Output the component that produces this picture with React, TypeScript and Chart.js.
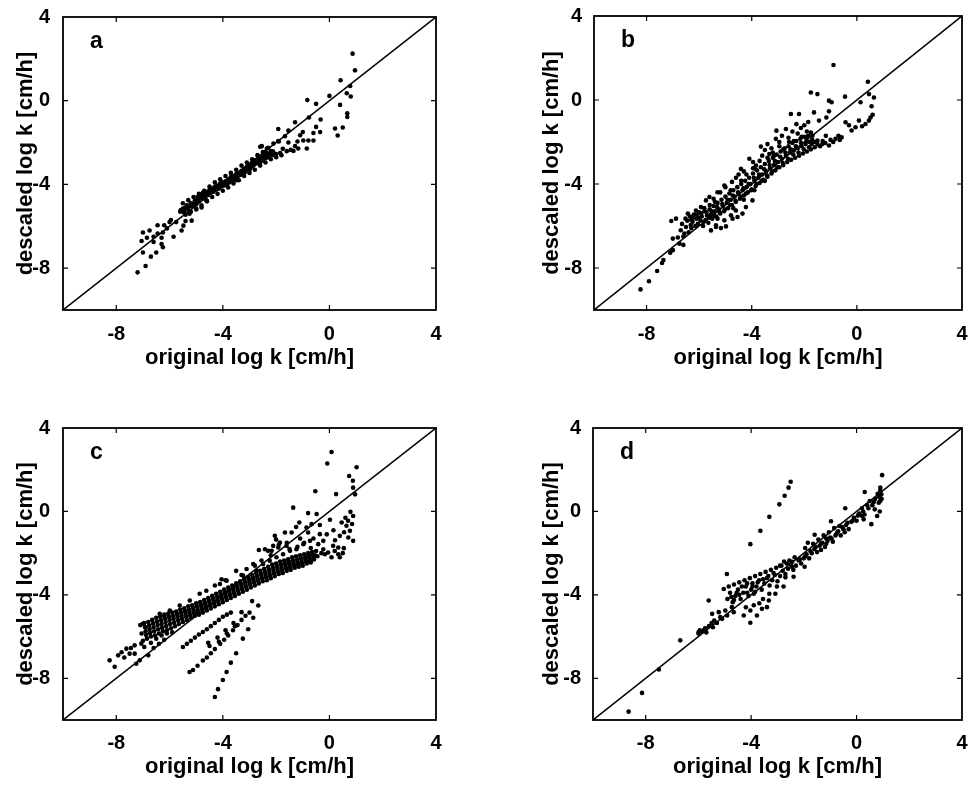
import React, { useEffect, useRef } from "react";
import { Chart, registerables } from "chart.js";

Chart.register(...registerables);

// ---------- data ----------
const axisMin = -10;
const axisMax = 4;
const tickValues = [-8, -4, 0, 4];
const xTitle = "original log k [cm/h]";
const yTitle = "descaled log k [cm/h]";
const panelLetters = ["a", "b", "c", "d"];
const diagonal = [axisMin, axisMax];

const pointsA: number[][] = [
  [-7.2, -8.2], [-6.9, -7.9], [-7.0, -7.25], [-6.7, -7.45], [-6.5, -7.25], [-7.05, -6.7], [-7.0, -6.3],
  [-6.75, -6.2], [-6.45, -6.35], [-6.85, -6.55], [-6.6, -6.75], [-6.25, -7.0], [-6.3, -6.55], [-6.1, -6.1],
  [-6.0, -5.8], [-5.85, -6.5], [-5.75, -5.8], [-5.55, -6.2], [-5.4, -5.75], [-5.25, -5.4], [-5.45, -5.3],
  [-6.2, -5.95], [-5.95, -5.7], [-6.3, -6.85], [-6.6, -6.5], [-6.45, -5.95], [-6.25, -6.3],
  [-4.8, -5.1], [-5.17, -5.73], [-5.48, -5.97], [-5.0, -5.2], [-4.6, -4.8], [-3.5, -3.8], [-3.0, -3.3],
  [-5.6, -5.3], [-5.5, -5.15], [-5.45, -5.35], [-5.35, -5.0], [-5.3, -5.2], [-5.2, -4.9], [-5.15, -5.05],
  [-5.05, -4.75], [-5.0, -4.95], [-4.95, -4.6], [-4.9, -4.8], [-4.85, -4.5], [-4.8, -4.65], [-4.75, -4.4],
  [-4.7, -4.55], [-4.65, -4.7], [-4.6, -4.35], [-4.55, -4.5], [-4.5, -4.25], [-4.45, -4.4], [-4.4, -4.2],
  [-4.35, -4.35], [-4.3, -4.1], [-4.25, -4.25], [-4.2, -4.05], [-4.15, -4.2], [-4.1, -3.95], [-4.05, -4.1],
  [-4.0, -3.9], [-3.95, -4.05], [-3.9, -3.85], [-3.85, -4.0], [-3.8, -3.75], [-3.75, -3.9], [-3.7, -3.65],
  [-3.65, -3.8], [-3.6, -3.6], [-3.55, -3.75], [-3.5, -3.5], [-3.45, -3.65], [-3.4, -3.45], [-3.35, -3.55],
  [-3.3, -3.35], [-3.25, -3.5], [-3.2, -3.25], [-3.15, -3.4], [-3.1, -3.15], [-3.05, -3.3], [-3.0, -3.05],
  [-2.95, -3.2], [-2.9, -2.95], [-2.85, -3.1], [-2.8, -2.85], [-2.75, -3.0], [-2.7, -2.9], [-2.65, -2.75],
  [-2.6, -2.95], [-2.55, -2.7], [-2.5, -2.85], [-2.45, -2.6], [-2.4, -2.75], [-2.35, -2.5], [-2.3, -2.7],
  [-2.25, -2.55], [-2.2, -2.4], [-2.15, -2.6], [-2.1, -2.5],
  [-5.58, -5.22], [-5.42, -5.12], [-5.28, -5.05], [-5.12, -4.92], [-4.98, -4.8], [-4.82, -4.62], [-4.68, -4.48],
  [-4.52, -4.38], [-4.38, -4.25], [-4.22, -4.15], [-4.08, -4.02], [-3.92, -3.95], [-3.78, -3.82], [-3.62, -3.7],
  [-3.48, -3.58], [-3.32, -3.45], [-3.18, -3.32], [-3.02, -3.18], [-2.88, -3.05], [-2.72, -2.95], [-2.58, -2.82],
  [-2.42, -2.68], [-2.28, -2.58], [-2.12, -2.42],
  [-5.5, -4.9], [-5.3, -4.75], [-5.1, -4.6], [-4.9, -4.45], [-4.7, -4.3], [-4.5, -4.1], [-4.3, -3.9],
  [-4.1, -3.75], [-3.9, -3.6], [-3.7, -3.45], [-3.5, -3.3], [-3.3, -3.1], [-3.1, -2.95], [-2.9, -2.8],
  [-2.7, -2.6], [-2.5, -2.45], [-2.3, -2.25], [-2.1, -2.05], [-1.9, -1.95],
  [-5.4, -5.45], [-5.2, -5.3], [-5.0, -5.15], [-4.8, -5.0], [-4.6, -4.8], [-4.4, -4.6], [-4.2, -4.45],
  [-4.0, -4.3], [-3.8, -4.15], [-3.6, -3.95], [-3.4, -3.8], [-3.2, -3.6], [-3.0, -3.45], [-2.8, -3.3],
  [-2.6, -3.1], [-2.4, -2.95], [-2.2, -2.8], [-2.0, -2.7], [-1.8, -2.6],
  [0.87, 2.25], [0.96, 1.45], [0.42, 0.98], [0.78, 0.7], [0.65, 0.36], [0.8, 0.2], [0.67, -0.6],
  [0.67, -0.78], [0.4, -0.2], [0.0, 0.23], [-0.83, 0.03], [-0.5, -0.15], [-0.33, -0.9], [-0.77, -0.8],
  [-1.29, -1.03], [-0.6, -1.54], [-0.35, -1.5], [0.21, -1.33], [0.5, -1.28], [0.31, -1.66], [-1.92, -1.35],
  [-1.54, -1.43], [-1.67, -1.7], [-1.1, -1.65], [-0.98, -1.9], [-0.79, -1.9], [-0.6, -1.9], [-0.85, -2.28],
  [-1.17, -2.28], [-1.29, -2.17], [-1.35, -2.4], [-1.54, -2.0], [-2.54, -2.17], [-2.35, -2.28], [-1.92, -1.93],
  [-2.0, -2.55], [-1.85, -2.5], [-1.6, -2.41], [-1.75, -2.3], [-1.45, -2.35], [-2.3, -2.6], [-2.45, -2.45],
  [-1.2, -1.95], [-0.5, -1.25], [-1.0, -1.5], [-2.6, -2.2],
];

const pointsB: number[][] = [
  [-8.23, -9.02], [-7.91, -8.63], [-7.6, -8.14], [-7.41, -7.76], [-7.36, -7.62], [-7.1, -7.27], [-7.0, -7.15],
  [-7.06, -5.76], [-6.88, -5.65], [-7.0, -6.6], [-6.81, -6.55], [-6.75, -6.84], [-6.6, -6.9], [-6.56, -6.36],
  [-6.43, -5.41], [-6.24, -5.57], [-6.12, -5.26], [-5.93, -5.1], [-5.74, -4.78], [-5.61, -4.62], [-5.3, -4.39],
  [-5.04, -4.07], [-5.36, -6.05], [-5.17, -6.1], [-4.98, -6.02], [-5.55, -6.21], [-4.73, -5.65], [-4.54, -5.57],
  [-4.35, -5.41], [-4.22, -5.1], [-3.97, -4.78], [-5.36, -5.97], [-5.04, -5.73], [-4.79, -5.49], [-4.6, -5.26],
  [-6.7, -6.2], [-6.65, -5.9], [-6.6, -6.5], [-6.5, -6.05], [-6.45, -5.75], [-6.4, -6.3], [-6.35, -5.55],
  [-6.3, -6.1], [-6.25, -5.8], [-6.2, -5.45], [-6.15, -6.0], [-6.1, -5.65], [-6.05, -5.9], [-6.0, -5.35],
  [-5.95, -5.75], [-5.9, -5.55], [-5.85, -6.0], [-5.8, -5.3], [-5.75, -5.7], [-5.7, -5.5], [-5.65, -5.85],
  [-5.6, -5.2], [-5.55, -5.45], [-5.5, -5.65], [-5.45, -5.05], [-5.4, -5.3], [-5.35, -5.55], [-5.3, -4.9],
  [-5.25, -5.2], [-5.2, -5.4], [-5.15, -4.75], [-5.1, -5.05], [-5.05, -5.3], [-5.0, -4.6], [-4.95, -4.9],
  [-4.9, -5.15], [-4.85, -4.45], [-4.8, -4.75], [-4.75, -5.0], [-4.7, -4.3], [-4.65, -4.6], [-4.6, -4.85],
  [-4.55, -4.15], [-4.5, -4.45], [-4.45, -4.7], [-4.4, -4.0], [-4.35, -4.3], [-4.3, -4.55], [-4.25, -3.85],
  [-4.2, -4.15], [-4.15, -4.4], [-4.1, -3.7], [-4.05, -4.0], [-4.0, -4.25], [-3.95, -3.5], [-3.9, -3.85],
  [-3.85, -4.1], [-3.8, -3.35], [-3.75, -3.7], [-3.7, -3.95], [-3.65, -3.2], [-3.6, -3.55], [-3.55, -3.8],
  [-3.5, -3.05], [-3.45, -3.4], [-3.4, -3.65], [-3.35, -2.9], [-3.3, -3.25], [-3.25, -3.5], [-3.2, -2.75],
  [-3.15, -3.1], [-3.1, -3.35], [-3.05, -2.6], [-3.0, -2.95], [-2.95, -3.2], [-2.9, -2.45], [-2.85, -2.8],
  [-2.8, -3.1], [-2.75, -2.3], [-2.7, -2.65], [-2.65, -2.95], [-2.6, -2.2], [-2.55, -2.5], [-2.5, -2.85],
  [-2.45, -2.05], [-2.4, -2.4], [-2.35, -2.75], [-2.3, -1.95], [-2.25, -2.3], [-2.2, -2.65], [-2.15, -1.85],
  [-2.1, -2.2], [-2.05, -2.55], [-2.0, -1.75], [-1.95, -2.1], [-1.9, -2.45], [-1.85, -1.7], [-1.8, -2.0],
  [-1.75, -2.35], [-1.7, -1.9], [-1.6, -2.25], [-1.5, -2.1],
  [-6.52, -5.65], [-6.32, -5.95], [-6.22, -5.6], [-6.02, -5.6], [-5.92, -5.4], [-5.82, -5.8], [-5.72, -5.35],
  [-5.62, -5.6], [-5.52, -5.3], [-5.42, -5.5], [-5.32, -5.1], [-5.22, -5.35], [-5.12, -4.95], [-5.02, -5.2],
  [-4.92, -4.75], [-4.82, -5.0], [-4.72, -4.55], [-4.62, -4.8], [-4.52, -4.4], [-4.42, -4.6], [-4.32, -4.2],
  [-4.22, -4.45], [-4.12, -4.0], [-4.02, -4.3], [-3.92, -3.7], [-3.82, -4.0], [-3.72, -3.55], [-3.62, -3.85],
  [-3.52, -3.3], [-3.42, -3.6], [-3.32, -3.1], [-3.22, -3.4], [-3.12, -2.9], [-3.02, -3.2], [-2.92, -2.7],
  [-2.82, -3.0], [-2.72, -2.5], [-2.62, -2.8], [-2.52, -2.35], [-2.42, -2.6], [-2.32, -2.2], [-2.22, -2.5],
  [-2.12, -2.05], [-2.02, -2.35], [-1.92, -1.95], [-1.82, -2.25], [-1.72, -2.1], [-1.62, -2.0], [-1.4, -2.2],
  [-1.3, -1.95], [-1.2, -2.05], [-1.0, -1.9], [-0.9, -2.0], [-0.7, -1.7], [-0.65, -1.9],
  [-3.95, -3.25], [-3.7, -2.9], [-3.6, -2.65], [-3.4, -2.75], [-3.25, -2.3], [-3.15, -2.65], [-2.95, -2.2],
  [-2.8, -2.35], [-2.6, -1.8], [-2.4, -1.95], [-2.25, -1.6], [-2.1, -1.75], [-1.9, -1.5], [-1.75, -1.55],
  [-4.6, -3.7], [-4.75, -3.9], [-4.5, -3.55], [-5.0, -4.15], [-5.2, -4.4], [-5.45, -4.7],
  [-5.8, -5.15], [-5.6, -5.0], [-5.4, -4.85], [-4.8, -4.3], [-4.4, -3.85], [-4.2, -3.55], [-3.9, -3.25],
  [-6.1, -5.45], [-6.3, -5.7], [-5.3, -5.65], [-4.7, -5.15], [-4.3, -4.75], [-3.9, -4.3], [-3.5, -3.85],
  [-4.09, -2.8], [-3.95, -2.95], [-3.84, -3.12], [-4.41, -3.28], [-4.3, -3.4], [-3.65, -2.22], [-3.5, -2.38],
  [-3.33, -2.57], [-3.2, -2.5], [-3.06, -1.46], [-2.7, -1.38], [-2.45, -1.5], [-2.13, -1.33], [-3.08, -1.85],
  [-2.58, -2.0], [-1.94, -1.78], [-1.69, -1.7], [-1.18, -1.7], [-0.81, -1.85], [-0.58, -1.78], [-1.5, -1.93],
  [-1.31, -2.09], [-1.06, -2.17], [-2.51, -0.67], [-2.2, -0.67], [-1.63, -0.59], [-1.06, -0.54], [-1.44, -0.98],
  [-1.16, -0.83], [-1.75, 0.36], [-1.5, 0.28], [-0.45, 0.16], [-0.96, -0.11], [0.14, -0.11], [0.46, 0.28],
  [0.65, 0.12], [0.56, -0.3], [0.52, -0.83], [0.46, -0.98], [0.33, -1.14], [0.08, -0.98], [-0.05, -1.3],
  [-0.43, -1.06], [-0.89, 1.67], [0.42, 0.87], [-2.85, -1.7], [-2.3, -1.15], [-2.0, -1.2], [-1.85, -1.05],
  [-3.4, -2.1], [-2.95, -2.0], [-0.3, -1.2], [-0.2, -1.45], [0.2, -1.25], [0.6, -0.7], [-1.06, -0.03],
];

const pointsC: number[][] = [
  [0.08, 2.85], [-0.08, 2.3], [1.02, 2.12], [0.74, 1.7], [0.88, 1.47], [-0.53, 0.97], [0.25, 0.83],
  [0.89, 1.14], [0.96, 0.82], [-1.36, 0.18], [-0.8, -0.08], [-0.48, -0.12], [0.02, -0.4], [-0.67, -0.61],
  [-0.36, -0.65], [0.79, -0.02], [0.89, -0.22], [0.46, -0.53], [0.64, -0.69], [0.77, -0.93], [0.71, -1.25],
  [0.89, -1.41], [0.39, -1.17], [0.21, -1.38], [0.54, -1.76], [0.33, -2.05], [0.39, -2.2], [-0.05, -1.97],
  [0.08, -2.2], [-0.23, -1.81], [-0.42, -1.57], [-1.13, -0.53], [-0.86, -0.77], [-0.8, -1.01], [-2.05, -1.17],
  [-1.67, -1.01], [-1.42, -1.01], [-2.42, -1.81], [-2.3, -1.89], [-0.36, -1.09], [-0.23, -1.41], [0.14, -1.65],
  [0.33, -1.73], [-0.17, -2.05], [0.6, -0.3], [0.7, -0.45], [0.55, -1.0], [0.85, -0.6], [-1.1, -1.3],
  [-0.95, -1.5], [-1.6, -1.5], [-1.9, -1.6], [-2.0, -1.35], [-1.25, -0.75], [-0.6, -1.3], [-0.1, -1.1],
  [0.15, -0.9], [-1.5, -1.8], [-1.2, -1.7], [-0.7, -1.75], [-0.3, -2.0], [-0.55, -2.1], [0.5, -2.0], [0.2, -1.9],
  [-2.11, -1.65], [-1.86, -1.49], [-1.61, -1.65], [-3.5, -2.85], [-3.3, -3.05], [-3.9, -3.3], [-4.3, -3.55],
  [-4.05, -3.25], [-2.8, -2.6], [-2.55, -2.35], [-2.2, -2.1], [-2.65, -1.85],
  [-4.11, -3.48], [-3.86, -3.32], [-3.24, -3.08], [-2.74, -2.84], [-2.49, -2.52], [-2.24, -2.36], [-1.99, -2.2],
  [-1.74, -2.05], [-1.48, -1.89], [-1.24, -1.81], [-0.98, -1.57], [-0.73, -1.41], [-2.17, -1.89], [-1.92, -1.73],
  [-2.86, -2.52], [-3.11, -2.76], [-4.62, -3.8], [-4.87, -3.95], [-5.24, -4.27], [-5.62, -4.51], [-5.99, -4.75],
  [-6.37, -4.91],
  [-7.1, -5.45], [-7.05, -5.85], [-7.0, -6.2], [-6.95, -5.35], [-6.9, -5.75], [-6.85, -6.1], [-6.8, -5.3],
  [-6.75, -5.65], [-6.7, -6.0], [-6.65, -5.2], [-6.6, -5.55], [-6.55, -5.95], [-6.5, -5.1], [-6.45, -5.45],
  [-6.4, -5.85], [-6.35, -5.05], [-6.3, -5.4], [-6.25, -5.75], [-6.2, -4.95], [-6.15, -5.3], [-6.1, -5.7],
  [-6.05, -4.9], [-6.0, -5.2], [-5.95, -5.6], [-5.9, -4.85], [-5.85, -5.15], [-5.8, -5.5], [-5.75, -4.8],
  [-5.7, -5.05], [-5.65, -5.4], [-5.6, -4.7], [-5.55, -5.0], [-5.5, -5.3], [-5.45, -4.65], [-5.4, -4.9],
  [-5.35, -5.2], [-5.3, -4.55], [-5.25, -4.85], [-5.2, -5.1], [-5.15, -4.5], [-5.1, -4.75], [-5.05, -5.0],
  [-5.0, -4.4], [-4.95, -4.7], [-4.9, -4.95], [-4.85, -4.35], [-4.8, -4.6], [-4.75, -4.85], [-4.7, -4.25],
  [-4.65, -4.5], [-4.6, -4.75], [-4.55, -4.15], [-4.5, -4.4], [-4.45, -4.65], [-4.4, -4.05], [-4.35, -4.3],
  [-4.3, -4.55], [-4.25, -3.95], [-4.2, -4.2], [-4.15, -4.45], [-4.1, -3.85], [-4.05, -4.1], [-4.0, -4.35],
  [-3.95, -3.75], [-3.9, -4.0], [-3.85, -4.25], [-3.8, -3.65], [-3.75, -3.9], [-3.7, -4.15], [-3.65, -3.55],
  [-3.6, -3.8], [-3.55, -4.05], [-3.5, -3.45], [-3.45, -3.7], [-3.4, -3.95], [-3.35, -3.35], [-3.3, -3.6],
  [-3.25, -3.85], [-3.2, -3.25], [-3.15, -3.5], [-3.1, -3.75], [-3.05, -3.15], [-3.0, -3.4], [-2.95, -3.65],
  [-2.9, -3.05], [-2.85, -3.3], [-2.8, -3.55], [-2.75, -2.95], [-2.7, -3.2], [-2.65, -3.45], [-2.6, -2.85],
  [-2.55, -3.1], [-2.5, -3.35], [-2.45, -2.75], [-2.4, -3.0], [-2.35, -3.3], [-2.3, -2.65], [-2.25, -2.95],
  [-2.2, -3.2], [-2.15, -2.55], [-2.1, -2.85], [-2.05, -3.1], [-2.0, -2.5], [-1.95, -2.75], [-1.9, -3.0],
  [-1.85, -2.4], [-1.8, -2.7], [-1.75, -2.95], [-1.7, -2.35], [-1.65, -2.6], [-1.6, -2.85], [-1.55, -2.3],
  [-1.5, -2.55], [-1.45, -2.8], [-1.4, -2.2], [-1.35, -2.5], [-1.3, -2.7], [-1.25, -2.15], [-1.2, -2.45],
  [-1.15, -2.65], [-1.1, -2.1], [-1.05, -2.4], [-1.0, -2.6], [-0.95, -2.05], [-0.9, -2.3], [-0.85, -2.5],
  [-0.8, -2.0], [-0.75, -2.25], [-0.7, -2.45], [-0.65, -1.95], [-0.6, -2.2], [-0.5, -1.9], [-0.45, -2.15],
  [-6.92, -5.55], [-6.88, -5.92], [-6.62, -5.37], [-6.58, -5.75], [-6.32, -5.22], [-6.28, -5.58], [-6.02, -5.05],
  [-5.98, -5.4], [-5.72, -4.92], [-5.68, -5.22], [-5.42, -4.78], [-5.38, -5.05], [-5.12, -4.62], [-5.08, -4.88],
  [-4.82, -4.48], [-4.78, -4.72], [-4.52, -4.28], [-4.48, -4.52], [-4.22, -4.08], [-4.18, -4.32], [-3.92, -3.88],
  [-3.88, -4.12], [-3.62, -3.68], [-3.58, -3.92], [-3.32, -3.48], [-3.28, -3.72], [-3.02, -3.28], [-2.98, -3.52],
  [-2.72, -3.08], [-2.68, -3.32], [-2.42, -2.88], [-2.38, -3.15], [-2.12, -2.7], [-2.08, -2.98], [-1.82, -2.55],
  [-1.78, -2.82], [-1.52, -2.42], [-1.48, -2.68], [-1.22, -2.3], [-1.18, -2.55], [-0.92, -2.18], [-0.88, -2.4],
  [-0.62, -2.08], [-0.58, -2.3],
  [-6.77, -5.47], [-6.73, -5.83], [-6.47, -5.28], [-6.43, -5.65], [-6.17, -5.12], [-6.13, -5.5], [-5.87, -5.0],
  [-5.83, -5.33], [-5.57, -4.85], [-5.53, -5.15], [-5.27, -4.7], [-5.23, -4.98], [-4.97, -4.55], [-4.93, -4.83],
  [-4.67, -4.38], [-4.63, -4.62], [-4.37, -4.18], [-4.33, -4.42], [-4.07, -3.98], [-4.03, -4.22], [-3.77, -3.78],
  [-3.73, -4.02], [-3.47, -3.58], [-3.43, -3.82], [-3.17, -3.38], [-3.13, -3.62], [-2.87, -3.18], [-2.83, -3.42],
  [-2.57, -2.98], [-2.53, -3.22], [-2.27, -2.8], [-2.23, -3.08], [-1.97, -2.62], [-1.93, -2.88], [-1.67, -2.48],
  [-1.63, -2.72], [-1.37, -2.35], [-1.33, -2.6], [-1.07, -2.25], [-1.03, -2.5], [-0.77, -2.12], [-0.73, -2.35],
  [-8.25, -7.14], [-8.06, -7.45], [-7.93, -6.9], [-7.62, -6.58], [-7.5, -6.82], [-7.31, -6.82], [-7.12, -7.14],
  [-7.25, -7.3], [-7.7, -7.0], [-7.31, -6.42], [-7.06, -6.34], [-7.0, -5.39], [-6.8, -6.9], [-6.6, -6.55],
  [-6.4, -6.35], [-6.2, -6.15], [-6.95, -6.5], [-6.7, -6.3], [-6.5, -6.1], [-6.3, -5.95], [-6.1, -5.85],
  [-5.9, -5.8], [-7.8, -6.75], [-7.45, -6.55], [-6.9, -5.55], [-6.2, -5.0],
  [-5.5, -6.5], [-5.35, -6.35], [-5.2, -6.2], [-5.05, -6.05], [-4.9, -5.9], [-4.75, -5.78], [-4.6, -5.65],
  [-4.45, -5.5], [-4.3, -5.35], [-4.15, -5.2], [-4.0, -5.05], [-3.85, -4.95], [-3.7, -4.85],
  [-5.25, -7.7], [-5.12, -7.6], [-4.95, -7.4], [-4.75, -7.15], [-4.6, -7.0], [-4.45, -6.8], [-4.3, -6.6],
  [-4.1, -6.35], [-3.95, -6.15], [-3.8, -5.95], [-3.62, -5.7], [-3.45, -5.45], [-3.3, -5.2], [-3.15, -5.0],
  [-4.3, -8.9], [-4.18, -8.52], [-4.0, -8.08], [-3.86, -7.7], [-3.7, -7.25], [-3.5, -6.8], [-3.25, -6.1],
  [-3.05, -5.65], [-2.86, -5.1],
  [-4.55, -6.3], [-4.5, -6.45], [-4.2, -6.05], [-4.15, -6.25], [-3.9, -5.7], [-3.85, -5.85], [-3.6, -5.35],
  [-3.55, -5.5], [-3.3, -4.83], [-2.67, -4.51], [-3.0, -4.85], [-2.9, -4.3],
];

const pointsD: number[][] = [
  [-2.5, 1.42], [-2.58, 1.14], [-2.73, 0.75], [-2.93, 0.34], [-3.31, -0.26], [-3.65, -0.93], [-4.03, -1.57],
  [-8.65, -9.6], [-8.14, -8.7], [-7.5, -7.58], [-6.69, -6.18], [-5.99, -5.78], [-5.8, -5.7], [-5.61, -4.27],
  [-4.92, -3.0],
  [-6.0, -5.85], [-5.95, -5.7], [-5.85, -5.75], [-5.75, -5.6], [-5.7, -5.8], [-5.6, -5.5], [-5.5, -5.35],
  [-5.45, -5.55],
  [-5.48, -4.91], [-5.4, -5.23], [-5.23, -4.83], [-5.17, -5.07], [-4.98, -4.75], [-4.91, -4.99], [-4.73, -4.59],
  [-4.66, -4.83], [-5.3, -5.35], [-5.1, -5.15],
  [-5.04, -3.72], [-4.85, -3.6], [-4.65, -3.5], [-4.45, -3.4], [-4.25, -3.3], [-4.05, -3.2], [-3.85, -3.1],
  [-3.65, -3.0], [-3.45, -2.9], [-3.25, -2.8], [-3.05, -2.7], [-2.85, -2.6], [-2.65, -2.5], [-2.45, -2.42],
  [-4.9, -4.2], [-4.8, -3.9], [-4.7, -4.35], [-4.6, -4.05], [-4.5, -3.75], [-4.4, -4.2], [-4.3, -3.9],
  [-4.2, -3.6], [-4.1, -4.05], [-4.0, -3.75], [-3.95, -3.45], [-3.9, -3.95], [-3.8, -3.6], [-3.7, -3.3],
  [-3.6, -3.75], [-3.5, -3.45], [-3.4, -3.2], [-3.3, -3.55], [-3.2, -3.3], [-3.1, -3.05], [-3.0, -3.35],
  [-2.9, -3.1], [-2.8, -2.85], [-2.7, -3.0], [-2.6, -2.75], [-2.5, -2.55], [-2.4, -2.8], [-2.3, -2.6],
  [-2.2, -2.35], [-2.1, -2.5], [-2.0, -2.25], [-1.9, -2.05], [-1.8, -2.25], [-1.7, -2.0], [-1.6, -1.8],
  [-1.5, -1.95], [-1.4, -1.65], [-1.3, -1.5], [-1.2, -1.7], [-1.1, -1.4], [-1.0, -1.25], [-0.9, -1.45],
  [-0.8, -1.15], [-0.7, -0.95], [-0.6, -1.15], [-0.5, -0.85], [-0.4, -0.65], [-0.3, -0.85], [-0.2, -0.5],
  [-0.1, -0.3], [0.0, -0.45], [0.1, -0.1], [0.2, 0.15], [0.3, -0.15], [0.4, 0.3], [0.5, 0.5], [0.6, 0.3],
  [0.7, 0.6], [0.8, 0.85], [0.9, 1.0], [0.95, 0.6],
  [-2.9, -2.6], [-2.75, -2.4], [-2.35, -2.2], [-1.95, -1.75], [-1.65, -1.55], [-1.45, -1.35], [-1.25, -1.15],
  [-1.05, -1.0], [-0.85, -0.8], [-1.85, -1.5], [-1.35, -1.85], [-1.15, -1.55], [-0.95, -1.3], [-0.65, -0.7],
  [-0.45, -1.0],
  [-1.95, -2.15], [-1.75, -1.9], [-1.55, -1.7], [-1.35, -1.55], [-1.15, -1.3], [-0.75, -1.05], [-0.55, -0.75],
  [-0.35, -0.55], [-0.15, -0.45], [0.05, -0.2], [0.25, 0.0], [0.45, 0.15], [0.65, 0.45], [0.85, 0.7],
  [-2.15, -2.3], [-2.45, -2.65], [-2.55, -2.35], [-3.15, -2.95], [-3.35, -3.1], [-3.55, -3.25], [-3.75, -3.4],
  [-3.95, -3.6], [-4.15, -3.45], [-4.35, -3.6], [-4.55, -3.9], [-4.75, -4.1], [-4.15, -3.9], [-3.85, -3.85],
  [-4.45, -4.0], [-4.65, -4.25],
  [0.97, 1.74], [0.31, 0.93], [-0.43, 0.15], [-0.97, -0.47], [-1.59, -1.12], [0.9, 1.14], [0.94, 0.82],
  [0.9, 0.5], [0.84, 0.42], [0.88, 0.0], [0.69, 0.1], [0.78, -0.22], [0.56, -0.61], [0.27, -0.38],
  [0.21, -0.22], [-1.97, -2.65],
  [-2.39, -3.13], [-2.7, -3.16], [-2.77, -3.6], [-3.02, -3.6], [-3.08, -3.95], [-3.33, -4.27], [-3.4, -4.59],
  [-3.59, -4.67], [-3.78, -4.99], [-4.03, -5.34], [-4.28, -4.99], [-4.03, -4.75], [-3.69, -4.4], [-3.31, -3.95],
  [-3.55, -4.2], [-3.9, -4.5], [-4.2, -4.6],
];

const panelPoints = [pointsA, pointsB, pointsC, pointsD];

// ---------- layout (page pixels) ----------
type Box = {
  left: number; top: number; width: number; height: number;
  yAxisWidth: number; xAxisHeight: number; padTop: number; padRight: number;
  yTitlePad: number; xTitlePad: number; xTickPad: number; yTickPad: number;
};

const boxes: Box[] = [
  { left: 0, top: 0, width: 486, height: 400, yAxisWidth: 63, xAxisHeight: 90, padTop: 15, padRight: 50, yTitlePad: 12.8, xTitlePad: 28.8, xTickPad: 4, yTickPad: 5 },
  { left: 486, top: 0, width: 486, height: 400, yAxisWidth: 108, xAxisHeight: 90, padTop: 15, padRight: 10, yTitlePad: 52.8, xTitlePad: 28.8, xTickPad: 4, yTickPad: 4 },
  { left: 0, top: 400, width: 486, height: 388, yAxisWidth: 63, xAxisHeight: 68, padTop: 28, padRight: 50, yTitlePad: 12.8, xTitlePad: 7.8, xTickPad: 3, yTickPad: 5 },
  { left: 486, top: 400, width: 486, height: 388, yAxisWidth: 107, xAxisHeight: 68, padTop: 28, padRight: 10, yTitlePad: 52.8, xTitlePad: 7.8, xTickPad: 3, yTickPad: 4 },
];

const FONT = '"Liberation Sans", Arial, Helvetica, sans-serif';

function makeFramePlugin(letter: string) {
  return {
    id: "frame",
    afterDraw(chart: any) {
      const { ctx, chartArea } = chart;
      const { left, top, right, bottom } = chartArea;
      const xs = chart.scales.x;
      const ys = chart.scales.y;
      ctx.save();
      ctx.strokeStyle = "#000";
      ctx.lineWidth = 1.8;
      ctx.strokeRect(left, top, right - left, bottom - top);
      ctx.lineWidth = 1.2;
      ctx.beginPath();
      tickValues.forEach((v) => {
        const px = xs.getPixelForValue(v);
        if (px > left + 1 && px < right - 1) {
          ctx.moveTo(px, bottom);
          ctx.lineTo(px, bottom - 5);
          ctx.moveTo(px, top);
          ctx.lineTo(px, top + 5);
        }
        const py = ys.getPixelForValue(v);
        if (py > top + 1 && py < bottom - 1) {
          ctx.moveTo(left, py);
          ctx.lineTo(left + 5, py);
          ctx.moveTo(right, py);
          ctx.lineTo(right - 5, py);
        }
      });
      ctx.stroke();
      ctx.fillStyle = "#000";
      ctx.font = `bold 23px ${FONT}`;
      ctx.textAlign = "left";
      ctx.textBaseline = "alphabetic";
      ctx.fillText(letter, left + 27, top + 31);
      ctx.restore();
    },
  };
}

function Panel({ points, letter, box }: { points: number[][]; letter: string; box: Box }) {
  const ref = useRef<HTMLCanvasElement>(null);
  useEffect(() => {
    const canvas = ref.current;
    if (!canvas) return;
    const tickFont = { family: FONT, size: 20, weight: "bold" as const };
    const titleFont = { family: FONT, size: 22, weight: "bold" as const };
    const chart = new Chart(canvas, {
      type: "scatter",
      data: {
        datasets: [
          {
            data: points.map(([x, y]) => ({ x, y })),
            pointRadius: 2.3,
            pointBackgroundColor: "#000",
            pointBorderWidth: 0,
            borderWidth: 0,
            order: 0,
          },
          {
            data: diagonal.map((v) => ({ x: v, y: v })),
            showLine: true,
            borderColor: "#000",
            borderWidth: 1.5,
            pointRadius: 0,
            order: 1,
          } as any,
        ],
      },
      options: {
        animation: false,
        responsive: false,
        maintainAspectRatio: false,
        devicePixelRatio: 1,
        layout: { padding: { top: box.padTop, right: box.padRight, left: 0, bottom: 0 } },
        plugins: { legend: { display: false }, tooltip: { enabled: false } },
        scales: {
          x: {
            type: "linear",
            min: axisMin,
            max: axisMax,
            afterBuildTicks: (s: any) => {
              s.ticks = tickValues.map((v) => ({ value: v }));
            },
            afterFit: (s: any) => {
              s.height = box.xAxisHeight;
            },
            grid: { display: false },
            border: { display: false },
            ticks: {
              color: "#000",
              font: tickFont,
              padding: box.xTickPad,
              maxRotation: 0,
              autoSkip: false,
              callback: (v: any) => String(v),
            },
            title: {
              display: true,
              text: xTitle,
              color: "#000",
              font: titleFont,
              padding: { top: 0, bottom: box.xTitlePad },
            },
          },
          y: {
            type: "linear",
            min: axisMin,
            max: axisMax,
            afterBuildTicks: (s: any) => {
              s.ticks = tickValues.map((v) => ({ value: v }));
            },
            afterFit: (s: any) => {
              s.width = box.yAxisWidth;
            },
            grid: { display: false },
            border: { display: false },
            ticks: {
              color: "#000",
              font: tickFont,
              padding: box.yTickPad,
              autoSkip: false,
              callback: (v: any) => String(v),
            },
            title: {
              display: true,
              text: yTitle,
              color: "#000",
              font: titleFont,
              padding: { top: box.yTitlePad, bottom: 0 },
            },
          },
        },
      } as any,
      plugins: [makeFramePlugin(letter)],
    });
    return () => chart.destroy();
  }, [points, letter, box]);
  return (
    <canvas
      ref={ref}
      width={box.width}
      height={box.height}
      style={{ position: "absolute", left: box.left, top: box.top, width: box.width, height: box.height }}
    />
  );
}

export default function App() {
  return (
    <div style={{ position: "absolute", left: 0, top: 0, width: 972, height: 788, background: "#fff", overflow: "hidden" }}>
      {panelPoints.map((pts, i) => (
        <Panel key={i} points={pts} letter={panelLetters[i]} box={boxes[i]} />
      ))}
    </div>
  );
}
